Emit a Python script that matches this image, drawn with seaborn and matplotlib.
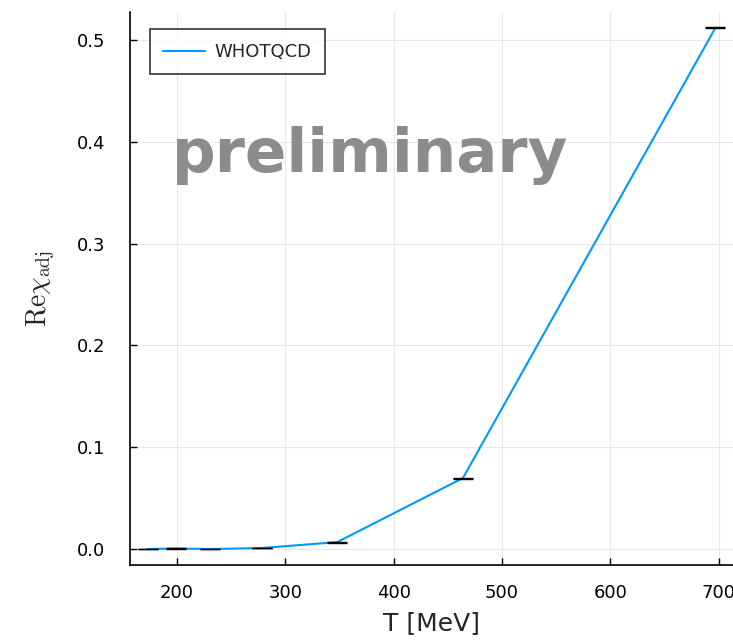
import matplotlib
matplotlib.use("Agg")
import matplotlib.pyplot as plt
import seaborn as sns
import pandas as pd

# WHOTQCD data: temperature [MeV], Re chi_adj and its uncertainty
temperature = [173, 199, 231, 279, 348, 464, 697]
re_chi_adj = [0.0000, 0.0005, 0.0000, 0.0010, 0.0068, 0.0697, 0.5120]
re_chi_err = [0.0003, 0.0003, 0.0003, 0.0003, 0.0004, 0.0005, 0.0004]

x_ticks = [200, 300, 400, 500, 600, 700]
y_ticks = [0.0, 0.1, 0.2, 0.3, 0.4, 0.5]

df = pd.DataFrame({"T": temperature, "chi": re_chi_adj, "err": re_chi_err})

sns.set_style("white")
plt.rcParams["font.family"] = ["DejaVu Sans"]
plt.rcParams["mathtext.fontset"] = "cm"

W, H = 733, 642
fig = plt.figure(figsize=(W / 100, H / 100), dpi=100)
ax = fig.add_axes([130 / W, (H - 565) / H, 603 / W, (565 - 12) / H])

line_color = "#009AFA"
sns.lineplot(data=df, x="T", y="chi", ax=ax, color=line_color, lw=1.5,
             label="WHOTQCD", zorder=3)
ax.errorbar(df["T"], df["chi"], yerr=df["err"], fmt="none", ecolor="black",
            elinewidth=0.8, capsize=7, capthick=1.0, zorder=4)

ax.set_xlim(156.8, 713.2)
ax.set_ylim(-0.0157, 0.5275)
ax.set_xticks(x_ticks)
ax.set_yticks(y_ticks)
ax.set_xticklabels([str(v) for v in x_ticks], fontsize=13)
ax.set_yticklabels([f"{v:.1f}" for v in y_ticks], fontsize=13)

ax.grid(True, color="#e8e8e8", lw=0.8)
ax.set_axisbelow(True)
for side in ("top", "right"):
    ax.spines[side].set_visible(False)
for side in ("left", "bottom"):
    ax.spines[side].set_color("black")
    ax.spines[side].set_linewidth(1.2)
ax.tick_params(direction="in", length=5, width=1, color="black",
               left=True, bottom=True, labelcolor="black")
ax.tick_params(axis="x", pad=14)
ax.tick_params(axis="y", pad=18)

ax.set_xlabel("T [MeV]", fontsize=18, labelpad=6)
ax.set_ylabel(r"$\mathrm{Re}\chi_{\mathrm{adj}}$", fontsize=20, labelpad=14)

leg = ax.legend(loc="upper left", bbox_to_anchor=(0.018, 0.985), fontsize=13,
                frameon=True, fancybox=False, edgecolor="black",
                handlelength=2.3, borderpad=0.75, handletextpad=0.5)
leg.get_frame().set_linewidth(1.2)

ax.text(378, 0.387, "preliminary", fontsize=44, fontweight="bold",
        color="#8c8c8c", ha="center", va="center", zorder=2,
        family=["DejaVu Sans"])

fig.savefig("out.png", dpi=100)
